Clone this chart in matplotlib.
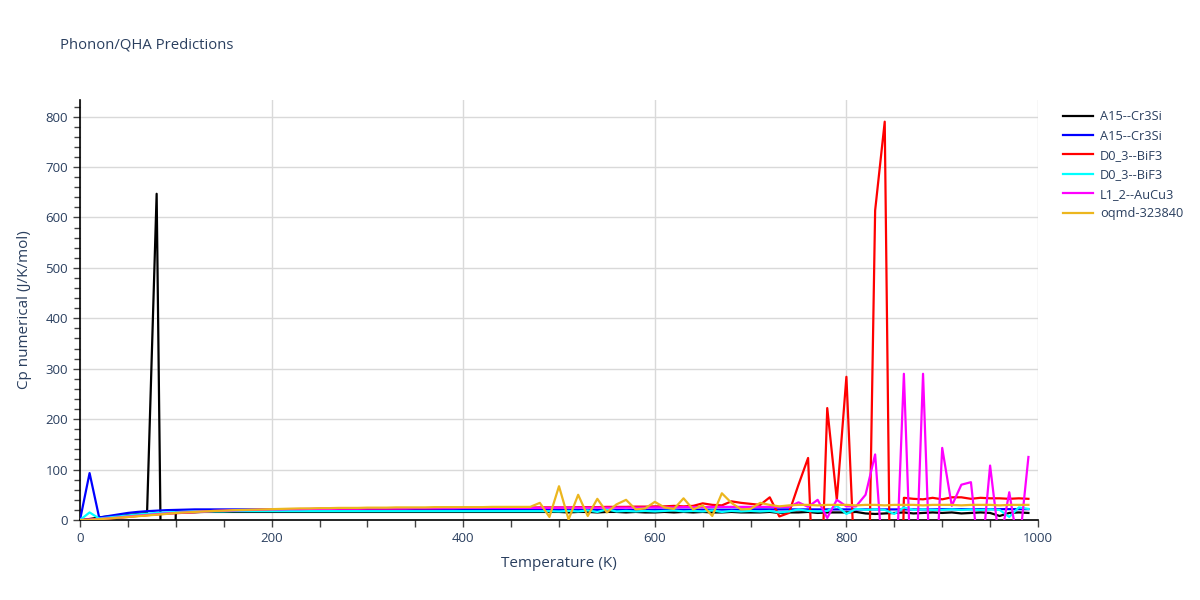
import matplotlib
matplotlib.use('Agg')
import matplotlib.pyplot as plt
from matplotlib.ticker import MultipleLocator

plt.rcParams['font.family'] = ['Open Sans', 'DejaVu Sans']

temps = list(range(0, 1000, 10))

a15_a = [0, 2, 5, 7, 8, 10, 12, 14, 647, -970,
         15, 15.5, 15.5, 16, 16, 16, 16, 16, 16, 16,
         16, 16, 16, 16, 16, 16, 16, 16, 16, 16,
         16, 16, 16, 16, 16, 16, 16, 16, 16, 16,
         16, 16, 16, 16, 16, 16, 16, 16, 16, 16,
         16, 15, 16, 16, 15, 16, 16, 15, 16, 15,
         15, 16, 15, 16, 15, 16, 15, 15, 16, 15,
         15, 15, 16, 14, 15, 15, 16, 14, 15, 15,
         15, 16, 13, 12, 13, 14, 15, 13, 14, 15,
         14, 15, 13, 14, 15, 14, 8, 14, 15, 14]

a15_b = [0, 93, 5, 8, 11, 14, 16, 17.5, 18.5, 19.5,
         20, 20.5, 21, 21, 21, 21, 21, 21, 21, 21,
         20.5, 20.5, 20.5, 20.5, 20.5, 20.5, 20.5, 20.5, 20.5, 20.5,
         20, 20, 20, 20, 20, 20, 20, 20, 20, 20,
         20, 20, 20, 20, 20, 20, 20, 20, 20, 20,
         20, 20, 20, 20, 20, 20, 20, 20, 20, 20,
         20.5, 20.5, 20.5, 20.5, 20.5, 20.5, 20.5, 20.5, 20.5, 20.5,
         21, 21, 21, 21, 21, 21, 21, 21, 21, 21,
         21, 21, 21, 21, 21, 21, 21, 21, 21, 21,
         21.5, 21.5, 21.5, 21.5, 21.5, 21.5, 21.5, 21.5, 21.5, 21.5]

d03_a = [0, 0.5, 1.5, 3, 4.5, 6, 8, 9.5, 11, 12.5,
         13.5, 14.5, 15.5, 16.5, 17.5, 18, 18.5, 19, 19.5, 20,
         20.5, 21, 21, 21.5, 21.5, 22, 22, 22.5, 22.5, 22.5,
         23, 23, 23, 23, 23.5, 23.5, 23.5, 23.5, 24, 24,
         24, 24, 24, 24, 24.5, 24.5, 24.5, 24.5, 25, 25,
         25, 25, 25.5, 25.5, 25.5, 26, 26, 26, 26.5, 26.5,
         27, 27, 28, 27, 28, 33, 30, 29, 37, 34,
         32, 30, 45, 7, 14, 70, 123, -350, 222, 40,
         284, -153, -520, 614, 790, -856, 44, 42, 41, 44,
         41, 45, 45, 42, 44, 43, 43, 42, 43, 42]

d03_b = [0, 15, 3, 5, 7, 9, 11, 12.5, 14, 15,
         15.5, 16, 16.5, 17, 17, 17, 17.5, 17.5, 17.5, 17.5,
         17.5, 17.5, 17.5, 17.5, 17.5, 17.5, 17.5, 17.5, 17.5, 17.5,
         17.5, 17.5, 17.5, 17.5, 17.5, 17.5, 17.5, 17.5, 17.5, 17.5,
         17.5, 17.5, 17.5, 17.5, 17.5, 17.5, 17.5, 17.5, 17.5, 17.5,
         17, 18, 17, 19, 16, 21, 17, 18, 17, 18,
         17, 18, 19, 17, 18, 17, 19, 16, 18, 17,
         18, 17, 18, 15, 17, 21, 18, 17, 18, 28,
         12, 22, 20, 21, 20, 12, 25, 20, 21, 20,
         20, 21, 20, 21, 20, 21, 20, 6, 25, 22]

l12 = [0, 1, 2, 3.5, 5, 7, 8.5, 10, 11.5, 13,
       14, 15, 16, 17, 18, 18.5, 19, 19.5, 20, 20.5,
       21, 21, 21.5, 21.5, 22, 22, 22, 22.5, 22.5, 22.5,
       23, 23, 23, 23, 23, 23.5, 23.5, 23.5, 23.5, 23.5,
       24, 24, 24, 24, 24, 24, 24, 24, 24, 24,
       24.5, 24.5, 24.5, 24.5, 24.5, 24.5, 24.5, 24.5, 24.5, 24.5,
       25, 25, 25, 25.5, 25.5, 25.5, 26, 26, 26, 26,
       26, 26, 26, 26, 26, 35, 26, 40, 4, 40,
       27, 27, 50, 130, -130, -193, 290, -250, 290, -250,
       143, 28, 70, 75, -100, 108, -50, 55, -60, 125]

oqmd = [0, 0.5, 1.5, 3, 4.5, 6, 7.5, 9, 10.5, 12,
        14, 15, 16, 17, 18, 18.5, 19.5, 20, 20.5, 21,
        21.5, 22, 22.5, 23, 23, 23.5, 23.5, 24, 24, 24,
        24.5, 24.5, 24.5, 25, 25, 25, 25, 25.5, 25.5, 25.5,
        25.5, 25.5, 25.5, 26, 26, 26, 26, 26, 34, 6,
        67, 1, 50, 8, 42, 15, 31, 40, 21, 23,
        36, 25, 22, 43, 21, 29, 8, 53, 34, 21,
        22, 34, 30, 27, 29, 30, 30, 29, 30, 30,
        30, 29, 30, 30, 29, 30, 30, 30, 29, 30,
        30, 30, 29, 30, 30, 30, 29, 30, 30, 30]

series = [('A15--Cr3Si', a15_a, 'black'),
          ('A15--Cr3Si', a15_b, 'blue'),
          ('D0_3--BiF3', d03_a, 'red'),
          ('D0_3--BiF3', d03_b, 'cyan'),
          ('L1_2--AuCu3', l12, 'magenta'),
          ('oqmd-323840', oqmd, '#ecb61e')]

txt = '#2a3f5f'

fig = plt.figure(figsize=(12, 6), dpi=100)
ax = fig.add_axes([80/1200, 80/600, 958/1200, 420/600])

for name, vals, col in series:
    ax.plot(temps, vals, color=col, lw=1.6, label=name, zorder=3)

ax.set_xlim(0, 1000)
ax.set_ylim(0, 833)
ax.xaxis.set_major_locator(MultipleLocator(200))
ax.xaxis.set_minor_locator(MultipleLocator(50))
ax.yaxis.set_major_locator(MultipleLocator(100))
ax.yaxis.set_minor_locator(MultipleLocator(20))
ax.grid(True, which='major', color='#d9d9d9', lw=1, zorder=0)
ax.tick_params(which='both', direction='out', length=5, width=1, color='#444',
               labelcolor=txt, labelsize=9.5)
ax.tick_params(axis='y', which='minor', length=4)

for s in ['top', 'right']:
    ax.spines[s].set_visible(False)
for s in ['left', 'bottom']:
    ax.spines[s].set_color('black')
    ax.spines[s].set_linewidth(1.2)

ax.set_xlabel('Temperature (K)', fontsize=11, color=txt, labelpad=8)
ax.set_ylabel('Cp numerical (J/K/mol)', fontsize=11, color=txt, labelpad=10)
fig.text(60/1200, 1 - 45/600, 'Phonon/QHA Predictions', fontsize=10.7, color=txt,
         va='center', ha='left')

ax.legend(loc='upper left', bbox_to_anchor=(1058/1200, 1 - 105/600),
          bbox_transform=fig.transFigure, frameon=False, fontsize=9.2,
          handlelength=2.3, handletextpad=0.6, labelspacing=0.5,
          labelcolor=txt, borderaxespad=0)

fig.savefig('out.png', dpi=100)
